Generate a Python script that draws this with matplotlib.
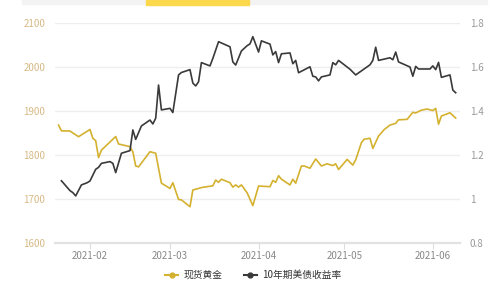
import pandas as pd
import matplotlib
matplotlib.use("Agg")
import matplotlib.pyplot as plt
import matplotlib.dates as mdates
from matplotlib.lines import Line2D
from matplotlib.patches import Rectangle

plt.rcParams['font.family'] = ['Noto Sans CJK SC', 'DejaVu Sans']

# gold spot price (left axis)
gold_dates = ["2021-01-21", "2021-01-22", "2021-01-25", "2021-01-28", "2021-02-01", "2021-02-02",
              "2021-02-03", "2021-02-04", "2021-02-05", "2021-02-10", "2021-02-11", "2021-02-15",
              "2021-02-16", "2021-02-17", "2021-02-18", "2021-02-22", "2021-02-24", "2021-02-26",
              "2021-03-01", "2021-03-02", "2021-03-04", "2021-03-05", "2021-03-08", "2021-03-09",
              "2021-03-11", "2021-03-12", "2021-03-16", "2021-03-17", "2021-03-18", "2021-03-19",
              "2021-03-22", "2021-03-23", "2021-03-24", "2021-03-25", "2021-03-26", "2021-03-28",
              "2021-03-30", "2021-04-01", "2021-04-05", "2021-04-06", "2021-04-07", "2021-04-08",
              "2021-04-09", "2021-04-12", "2021-04-13", "2021-04-14", "2021-04-16", "2021-04-17",
              "2021-04-19", "2021-04-21", "2021-04-23", "2021-04-25", "2021-04-27", "2021-04-28",
              "2021-04-29", "2021-05-02", "2021-05-04", "2021-05-05", "2021-05-07", "2021-05-08",
              "2021-05-10", "2021-05-11", "2021-05-13", "2021-05-15", "2021-05-17", "2021-05-19",
              "2021-05-20", "2021-05-23", "2021-05-25", "2021-05-26", "2021-05-28", "2021-05-30",
              "2021-06-01", "2021-06-02", "2021-06-03", "2021-06-04", "2021-06-07", "2021-06-09"]
gold_values = [1868, 1855, 1854.5, 1841.6, 1858, 1838, 1832.5, 1794, 1811, 1842, 1825, 1819,
               1807.5, 1775, 1773, 1807.5, 1804, 1736, 1724, 1737, 1699, 1698, 1682.5, 1720.5,
               1724, 1726, 1730, 1743, 1738, 1745, 1737, 1727, 1732, 1727, 1732, 1714,
               1685, 1729.5, 1728, 1742, 1738, 1753, 1745, 1732, 1745, 1736, 1775, 1775,
               1770, 1791, 1775, 1780, 1776, 1780, 1767, 1790, 1777, 1789, 1828, 1836,
               1838, 1815, 1843, 1858, 1868, 1872, 1880, 1881, 1897, 1895.5, 1902, 1904.5,
               1901, 1906, 1870, 1888.6, 1896, 1884]

# 10y treasury yield (right axis)
yield_dates = ["2021-01-22", "2021-01-25", "2021-01-26", "2021-01-27", "2021-01-29", "2021-01-31",
               "2021-02-01", "2021-02-03", "2021-02-04", "2021-02-05", "2021-02-08", "2021-02-09",
               "2021-02-10", "2021-02-12", "2021-02-15", "2021-02-16", "2021-02-17", "2021-02-19",
               "2021-02-22", "2021-02-23", "2021-02-24", "2021-02-25", "2021-02-26", "2021-03-01",
               "2021-03-02", "2021-03-04", "2021-03-05", "2021-03-08", "2021-03-09", "2021-03-10",
               "2021-03-11", "2021-03-12", "2021-03-15", "2021-03-16", "2021-03-18", "2021-03-22",
               "2021-03-23", "2021-03-24", "2021-03-26", "2021-03-28", "2021-03-29", "2021-03-30",
               "2021-04-01", "2021-04-02", "2021-04-05", "2021-04-06", "2021-04-07", "2021-04-08",
               "2021-04-09", "2021-04-12", "2021-04-13", "2021-04-14", "2021-04-15", "2021-04-19",
               "2021-04-20", "2021-04-21", "2021-04-22", "2021-04-23", "2021-04-26", "2021-04-27",
               "2021-04-28", "2021-04-29", "2021-05-03", "2021-05-05", "2021-05-10", "2021-05-11",
               "2021-05-12", "2021-05-13", "2021-05-17", "2021-05-18", "2021-05-19", "2021-05-20",
               "2021-05-24", "2021-05-25", "2021-05-26", "2021-05-27", "2021-05-31", "2021-06-01",
               "2021-06-02", "2021-06-03", "2021-06-04", "2021-06-07", "2021-06-08", "2021-06-09"]
yield_values = [1.083, 1.038, 1.029, 1.014, 1.064, 1.074, 1.082, 1.135, 1.144, 1.162, 1.170, 1.162,
                1.120, 1.208, 1.220, 1.314, 1.271, 1.332, 1.359, 1.341, 1.367, 1.518, 1.405, 1.412,
                1.393, 1.564, 1.575, 1.588, 1.527, 1.514, 1.533, 1.620, 1.605, 1.639, 1.715, 1.692,
                1.623, 1.609, 1.673, 1.697, 1.705, 1.738, 1.668, 1.719, 1.704, 1.655, 1.670, 1.620,
                1.660, 1.664, 1.615, 1.630, 1.574, 1.601, 1.558, 1.555, 1.537, 1.555, 1.564, 1.620,
                1.610, 1.630, 1.590, 1.564, 1.610, 1.630, 1.690, 1.630, 1.642, 1.633, 1.668, 1.623,
                1.600, 1.558, 1.603, 1.591, 1.591, 1.605, 1.588, 1.621, 1.553, 1.564, 1.495, 1.483]

left_ticks = [1600, 1700, 1800, 1900, 2000, 2100]
right_ticks = [0.8, 1.0, 1.2, 1.4, 1.6, 1.8]
right_labels = ["0.8", "1", "1.2", "1.4", "1.6", "1.8"]
month_ticks = ["2021-02-01", "2021-03-01", "2021-04-01", "2021-05-01", "2021-06-01"]
series_names = ["现货黄金", "10年期美债收益率"]

gold_color = "#d4b12f"
yield_color = "#3a3a3a"

fig = plt.figure(figsize=(4.99, 3.0), dpi=100)
ax = fig.add_axes([0.1102, 0.19, 0.8116, 0.7333])
ax2 = ax.twinx()

ax.plot(pd.to_datetime(gold_dates), gold_values, color=gold_color, lw=1.2)
ax2.plot(pd.to_datetime(yield_dates), yield_values, color=yield_color, lw=1.2)

ax.set_xlim(pd.Timestamp("2021-01-19 18:00"), pd.Timestamp("2021-06-10 12:00"))
ax.set_ylim(1600, 2100)
ax2.set_ylim(0.8, 1.8)

ax.set_yticks(left_ticks)
ax2.set_yticks(right_ticks)
ax2.set_yticklabels(right_labels)
ax.set_xticks(pd.to_datetime(month_ticks))
ax.xaxis.set_major_formatter(mdates.DateFormatter("%Y-%m"))

ax.grid(axis="y", color="#eeeeee", lw=1)
ax.set_axisbelow(True)
for a in (ax, ax2):
    for s in ["top", "left", "right"]:
        a.spines[s].set_visible(False)
    a.spines["bottom"].set_color("#e2e2e2")
    a.spines["bottom"].set_linewidth(1.5)

ax.tick_params(axis="y", length=0, labelsize=7, labelcolor="#d6b985", pad=7)
ax2.tick_params(axis="y", length=0, labelsize=7, labelcolor="#999999", pad=7)
ax.tick_params(axis="x", length=4, color="#dddddd", labelsize=7, labelcolor="#888888", pad=1.5)

handles = [Line2D([], [], color=gold_color, lw=1.5, marker="o", markersize=3.5),
           Line2D([], [], color=yield_color, lw=1.5, marker="o", markersize=3.5)]
fig.legend(handles, series_names, loc="center", bbox_to_anchor=(0.507, 0.083), ncol=2,
           frameon=False, fontsize=7, handlelength=1.4, handletextpad=0.5, columnspacing=2.2,
           labelcolor="#333333")

# top tab strip
fig.patches.append(Rectangle((22 / 499, 1 - 4 / 300), 465 / 499, 4 / 300,
                             transform=fig.transFigure, color="#f3f3f3", zorder=0))
fig.patches.append(Rectangle((146 / 499, 1 - 5 / 300), 103 / 499, 5 / 300,
                             transform=fig.transFigure, color="#fbd84c", zorder=1))

fig.savefig("out.png", dpi=100)
